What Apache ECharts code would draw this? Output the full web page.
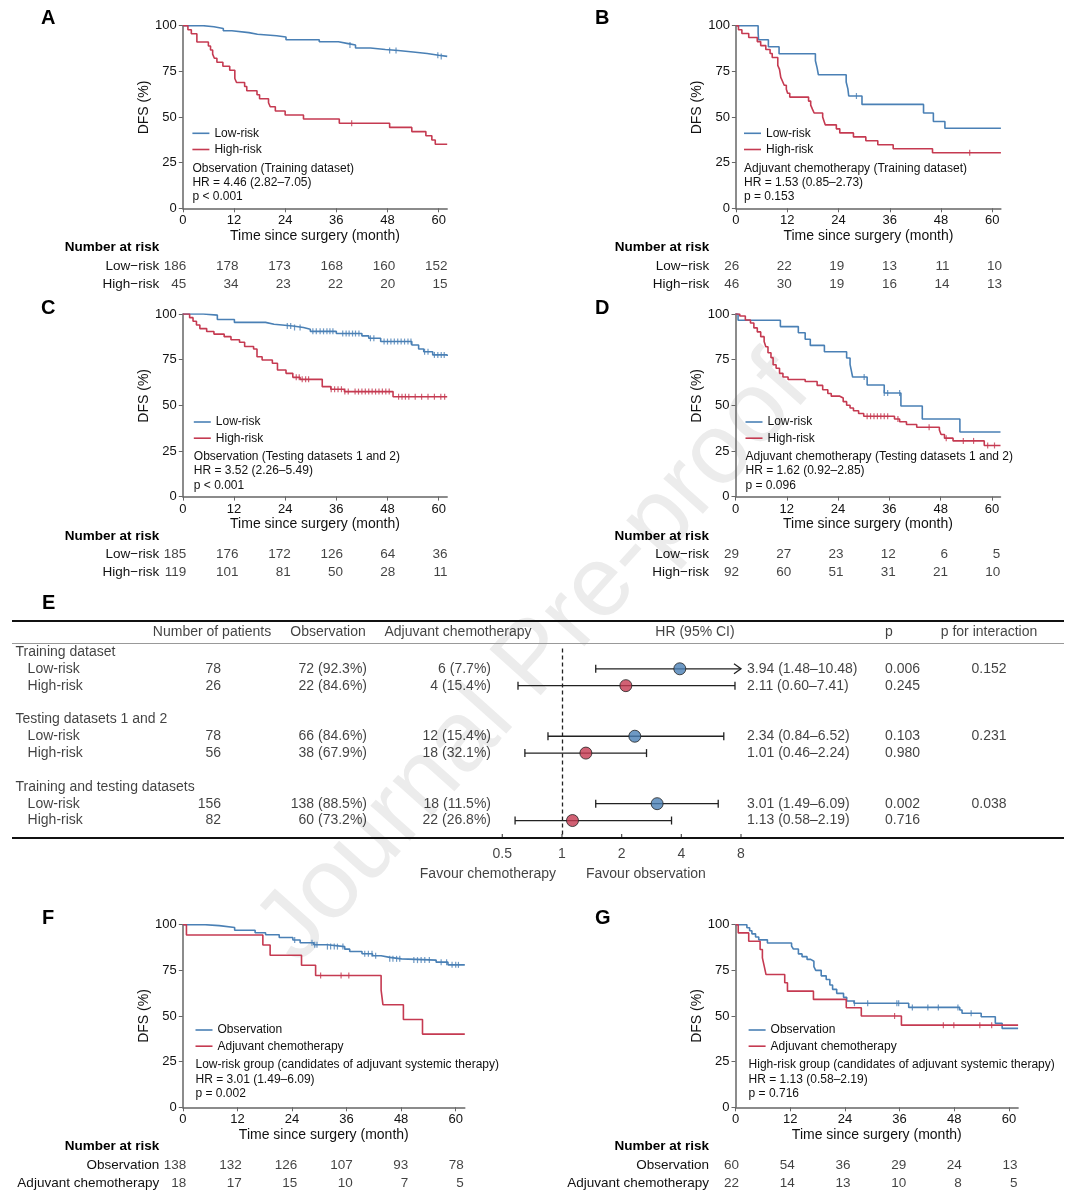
<!DOCTYPE html>
<html>
<head>
<meta charset="utf-8">
<script src="https://cdn.jsdelivr.net/npm/echarts@6/dist/echarts.min.js"></script>
<style>
  html, body { margin: 0; padding: 0; background: #fff; }
  #chart { width: 1078px; height: 1199px; }
</style>
</head>
<body>
<div id="chart"></div>
<script>
// ---- 生存曲线数据 [月, DFS%]，阶梯点 ----
const aLow = [[0,100],[4.8,99.4],[7.3,98.5],[9.5,97.2],[11.5,96.2],[15.5,95.3],[17.5,94.5],[22,93.8],[24.2,92.3],[32,91.2],[36.5,90.2],[38.8,89.4],[40.5,87.8],[44,87],[47.5,86.4],[50.5,85.6],[54,84.8],[57.3,83.8],[60,83.2],[62,83.2]];
const aHigh = [[0,100],[1.2,97.8],[2,95.6],[3.3,91.1],[6,88.9],[6.5,86.7],[7,84.4],[7.4,82.2],[8,80],[9.4,77.8],[11,75.6],[12.2,71.1],[12.6,68.9],[14.5,66.7],[15,64.4],[17.4,62.2],[18,60],[20.1,57.8],[20.5,55.6],[21.7,53.3],[24,51.1],[28.3,48.9],[36.7,46.6],[48.5,44.3],[53.7,42],[57,39.7],[58.4,37.4],[59.2,35.1],[62,35.1]];
const bLow = [[0,100],[5.2,96.2],[5.3,92.3],[7.6,88.5],[10.1,84.6],[18.6,80.8],[19,76.9],[19.3,73.1],[25.8,69.2],[26.2,65.4],[26.4,61.5],[29.5,56.9],[43.9,52.2],[46.2,47.5],[48.9,43.8],[62,43.8]];
const bHigh = [[0,100],[0.6,97.8],[1.4,95.7],[3,93.5],[5,91.3],[5.8,89.1],[7,87],[8,84.8],[8.5,82.6],[9.8,78.3],[10.2,76.1],[10.5,71.7],[10.9,69.6],[11.3,67.4],[11.8,65.2],[12.1,63],[12.6,60.9],[17,58.7],[17.5,56.5],[17.9,54.3],[18.3,52.2],[20.3,50],[20.6,47.8],[20.9,45.7],[23.5,43.5],[24.3,41.3],[27.5,39.1],[30.4,37],[33.2,34.8],[36.8,32.6],[46,30.4],[62,30.4]];
const cLow = [[0,100],[4.8,99.4],[8.1,97],[12.1,95.4],[19.4,94.4],[21.4,93.4],[25.8,92.6],[28.3,91.6],[29.9,90.5],[36,89.3],[42,88],[43.6,86.7],[46.4,84.9],[53.7,83],[55.3,80.8],[56.5,79.3],[58.6,77.6],[62,77]];
const cHigh = [[0,100],[1.6,98],[2.4,96],[3.2,94],[4,92],[5.6,90.4],[7.3,89],[9.7,87.6],[11.3,85.9],[13.3,84.5],[14.5,82.2],[16.6,80.8],[17.4,76.6],[18.6,74.8],[21,73],[22.2,69.3],[24.2,67.5],[25.8,65.3],[27.5,64.2],[32.7,60.2],[34.7,58.8],[37.9,57.5],[49.3,54.7],[62,54.7]];
const dLow = [[0,100],[0.6,96.6],[10.5,93.1],[14.7,89.7],[16.3,86.2],[17.5,82.8],[20.8,79.3],[26,75.9],[26.8,72.4],[27.1,69],[27.4,65.5],[30.8,61.1],[34.8,56.7],[38.7,49.6],[43.7,42.5],[52.5,35.4],[62,35.4]];
const dHigh = [[0,100],[1,98.9],[2.3,96.7],[3.5,95.1],[4.3,92.4],[5.1,90.2],[5.9,87.6],[6.7,85],[7.1,82.1],[7.6,78.8],[8.3,76.1],[8.8,72.2],[9.5,70.3],[10.3,67.5],[11.1,65.5],[12.3,64.1],[16.3,63],[19.1,60.9],[20.4,58.5],[21.6,56.5],[22.4,55],[24.4,54],[25.2,52],[26,50],[26.8,48.5],[27.6,47],[28.8,45.5],[30,44],[37.2,42.5],[38.4,41],[40,39.5],[42.4,38],[47.7,36.5],[48.1,34],[48.9,32],[50.9,30.5],[58.2,28],[62,28]];
const fObs = [[0,100],[4.9,99.5],[8,98.5],[11.4,97],[15.9,95.6],[18.2,94.5],[21.2,93],[24.2,91.6],[25.8,90.1],[28.8,89],[31.8,88],[35.6,86.6],[36.7,85.3],[39.4,84.1],[41.7,83],[43.6,82.1],[45.5,81.3],[48.1,80.6],[55.7,79.5],[58.3,78],[62,78]];
const fAdj = [[0,100],[0.8,94.4],[17.6,88.9],[19.2,83.3],[26.1,77.8],[29.2,72.2],[43.6,64.2],[44,56.2],[48.5,48.1],[52.7,40.1],[62,40.1]];
const gObs = [[0,100],[2.5,98.3],[3.1,96.7],[3.6,95],[4.4,93.3],[5.1,91.7],[7,90],[12.3,88.3],[12.7,86.7],[13.8,84],[14.6,82.5],[15.7,81],[16.5,80],[17.2,77],[17.6,75],[18.8,72],[19.9,70],[20.7,67],[21.3,64.6],[22.2,62.4],[23.7,60.2],[24.4,58.2],[26,57],[38,54.7],[49.2,53.3],[49.7,51.5],[53.9,49.6],[57,46],[58.5,43.2],[62,43.2]];
const gAdj = [[0,100],[0.6,95.5],[2.9,90.9],[5.4,86.4],[5.9,81.8],[6.3,77.3],[6.7,72.7],[10.8,68.2],[11.4,63.6],[17.1,59.1],[24.3,54.5],[27.6,50],[36.4,45],[62,45]];

// ---- 删失时间点（月）----
const aLowCens = [39.2, 48.5, 50, 59.8, 60.6];
const aHighCens = [39.6];
const bLowCens = [28.2];
const bHighCens = [54.7];
const cLowCens = [24.5,25.3,26.2,27.5,30.5,31.3,32.2,33,33.8,34.5,35.2,37.5,38.3,39,39.8,40.5,41.3,44,44.8,47.2,48,48.8,49.6,50.4,51.2,52,52.8,53.5,56.7,57.5,59,59.8,60.6,61.3];
const cHighCens = [26.6,27.3,28,28.8,29.5,34.8,35.6,36.4,37.2,38,38.8,40.4,41.2,42,42.8,43.6,44.4,45.2,46,46.8,47.6,48.4,50.6,51.4,52.2,53,54.5,56,57.5,59,60.5,61.4];
const dLowCens = [30.1, 34.8, 35.6, 38.4];
const dHighCens = [30.8,31.6,32.4,33.2,34,34.8,35.6,38,45.3,49.3,53.3,55.7,59,60.6];
const fObsCens = [24.6,28.4,29,29.5,31.8,32.5,33.3,34,35.2,40,40.8,41.6,42.4,45.5,46.2,47,47.7,50.8,51.6,52.4,53.2,54.2,56.8,58,59.2,60,60.6];
const fAdjCens = [30.3, 34.8, 36.5];
const gObsCens = [26.1, 29, 35.4, 35.8, 38.8, 42.2, 44.5, 48.8, 51.7];
const gAdjCens = [34.9, 45.6, 47.9, 53.6, 56.2];

// ---- 风险人数表 ----
const riskTimes = [0, 12, 24, 36, 48, 60];
const aRiskLow = [186, 178, 173, 168, 160, 152];
const aRiskHigh = [45, 34, 23, 22, 20, 15];
const bRiskLow = [26, 22, 19, 13, 11, 10];
const bRiskHigh = [46, 30, 19, 16, 14, 13];
const cRiskLow = [185, 176, 172, 126, 64, 36];
const cRiskHigh = [119, 101, 81, 50, 28, 11];
const dRiskLow = [29, 27, 23, 12, 6, 5];
const dRiskHigh = [92, 60, 51, 31, 21, 10];
const fRiskObs = [138, 132, 126, 107, 93, 78];
const fRiskAdj = [18, 17, 15, 10, 7, 5];
const gRiskObs = [60, 54, 36, 29, 24, 13];
const gRiskAdj = [22, 14, 13, 10, 8, 5];

const kmXTicks = [0, 12, 24, 36, 48, 60];

// ---- 森林图数据 ----
const forestGroups = ['Training dataset', 'Testing datasets 1 and 2', 'Training and testing datasets'];
const forestSub = ['Low-risk', 'High-risk', 'Low-risk', 'High-risk', 'Low-risk', 'High-risk'];
const forestN = [78, 26, 78, 56, 156, 82];
const forestObs = ['72 (92.3%)', '22 (84.6%)', '66 (84.6%)', '38 (67.9%)', '138 (88.5%)', '60 (73.2%)'];
const forestAdj = ['6 (7.7%)', '4 (15.4%)', '12 (15.4%)', '18 (32.1%)', '18 (11.5%)', '22 (26.8%)'];
const forestHRText = ['3.94 (1.48\u201310.48)', '2.11 (0.60\u20137.41)', '2.34 (0.84\u20136.52)', '1.01 (0.46\u20132.24)', '3.01 (1.49\u20136.09)', '1.13 (0.58\u20132.19)'];
const forestP = ['0.006', '0.245', '0.103', '0.980', '0.002', '0.716'];
const forestPInt = ['0.152', '0.231', '0.038'];
// 图中标记的位置
const forestHR = [3.93, 2.10, 2.33, 1.32, 3.02, 1.13];
const forestLow = [1.48, 0.60, 0.85, 0.65, 1.48, 0.58];
const forestHigh = [10.48, 7.46, 6.55, 2.67, 6.14, 3.57];
const forestTicks = [0.5, 1, 2, 4, 8];

// ---- 样式 ----
const FONT = '"Liberation Sans", Arial, Helvetica, sans-serif';
const BLUE = '#4a80b5';
const RED = '#c53a51';
const AXIS = '#666';
const TXT = '#111';
const LEG_ICON = 'path://M0,0L17,0L17,1.6L0,1.6Z';

let grids = [], xAxes = [], yAxes = [], series = [], legends = [], titles = [];

// 某时刻的生存率（阶梯查找）
function survAt(curve, t) {
  let s = curve[0][1];
  for (let i = 0; i < curve.length; i++) {
    if (curve[i][0] <= t) s = curve[i][1];
  }
  return s;
}

function kmPanel(p) {
  let gi = grids.length;
  grids.push({ left: p.left, top: p.top, width: p.width, height: 182.6, outerBoundsMode: 'none' });
  xAxes.push({
    gridIndex: gi, type: 'value', min: 0, max: 62,
    name: 'Time since surgery (month)', nameLocation: 'middle', nameGap: 21,
    nameTextStyle: { fontSize: 14, color: TXT },
    axisLine: { onZero: false, lineStyle: { color: AXIS, width: 1.5 } },
    axisTick: { length: 4, lineStyle: { color: AXIS }, customValues: kmXTicks },
    axisLabel: { fontSize: 13, color: TXT, margin: 6, customValues: kmXTicks },
    splitLine: { show: false }
  });
  yAxes.push({
    gridIndex: gi, type: 'value', min: 0, max: 100, interval: 25,
    name: 'DFS (%)', nameLocation: 'middle', nameGap: 26,
    nameTextStyle: { fontSize: 14, color: TXT, padding: p.dfsShift ? [0, 0, 0, 19] : 0 },
    axisLine: { show: true, lineStyle: { color: AXIS, width: 1.5 } },
    axisTick: { show: true, length: 4, lineStyle: { color: AXIS } },
    axisLabel: { fontSize: 13, color: TXT, margin: 6 },
    splitLine: { show: false }
  });
  let curves = [[p.names[0], p.c1, p.cens1, BLUE], [p.names[1], p.c2, p.cens2, RED]];
  curves.forEach(function (c) {
    series.push({
      name: c[0], type: 'line', step: 'end', xAxisIndex: gi, yAxisIndex: gi,
      data: c[1], symbol: 'none', silent: true, z: 3,
      lineStyle: { color: c[3], width: 1.6 }, itemStyle: { color: c[3] }
    });
    series.push({
      name: 'censor', type: 'scatter', xAxisIndex: gi, yAxisIndex: gi,
      data: c[2].map(function (t) { return [t, survAt(c[1], t)]; }),
      symbol: 'rect', symbolSize: [1.2, 6], silent: true, z: 3,
      itemStyle: { color: c[3] }
    });
  });
  legends.push({
    left: p.legLeft, top: p.legTop, orient: 'vertical', padding: 0,
    itemWidth: 17, itemHeight: 12, itemGap: 4.2, selectedMode: false,
    icon: LEG_ICON, symbolKeepAspect: true,
    data: p.names, textStyle: { fontSize: 12, color: TXT }
  });
  titles.push({
    text: p.note, left: p.legLeft, top: p.noteTop, padding: 0,
    textStyle: { fontSize: 12, fontWeight: 'normal', color: TXT, lineHeight: 14.4, fontFamily: FONT }
  });
  titles.push({
    text: p.letter, left: p.letterLeft, top: p.letterTop, padding: 0,
    textStyle: { fontSize: 20, fontWeight: 'bold', color: '#000', fontFamily: FONT }
  });

  // 风险人数表
  let ri = grids.length;
  grids.push({ left: p.riskLeft, top: p.riskTop, width: p.riskWidth, height: 54.6, outerBoundsMode: 'none' });
  xAxes.push({ gridIndex: ri, type: 'value', min: 0, max: 60, show: false });
  yAxes.push({
    gridIndex: ri, type: 'category', inverse: true,
    data: ['Number at risk', p.rows[0], p.rows[1]],
    axisLine: { show: false }, axisTick: { show: false },
    axisLabel: {
      interval: 0, margin: p.rowMargin, fontSize: 13.5, color: TXT,
      formatter: function (v, i) { return i === 0 ? '{b|' + v + '}' : v; },
      rich: { b: { fontWeight: 'bold', fontSize: 13.5, color: '#000' } }
    }
  });
  [p.r1, p.r2].forEach(function (arr, k) {
    series.push({
      name: 'risk', type: 'scatter', xAxisIndex: ri, yAxisIndex: ri, clip: false,
      symbolSize: 0, silent: true,
      data: arr.map(function (n, i) { return { name: String(n), value: [riskTimes[i], k + 1] }; }),
      label: { show: true, position: 'left', distance: 0, formatter: '{b}', fontSize: 13.5, color: TXT }
    });
  });
}

kmPanel({
  letter: 'A', letterLeft: 41, letterTop: 8.5,
  left: 182.8, top: 25.7, width: 264.4,
  names: ['Low-risk', 'High-risk'], c1: aLow, c2: aHigh, cens1: aLowCens, cens2: aHighCens,
  legLeft: 192.4, legTop: 127.3, noteTop: 161,
  note: 'Observation (Training dataset)\nHR = 4.46 (2.82\u20137.05)\np < 0.001',
  dfsShift: true,
  riskLeft: 186.2, riskTop: 238.6, riskWidth: 261.3, rowMargin: 27,
  rows: ['Low\u2212risk', 'High\u2212risk'], r1: aRiskLow, r2: aRiskHigh
});
kmPanel({
  letter: 'B', letterLeft: 595, letterTop: 8.5,
  left: 735.9, top: 25.7, width: 265,
  names: ['Low-risk', 'High-risk'], c1: bLow, c2: bHigh, cens1: bLowCens, cens2: bHighCens,
  legLeft: 744, legTop: 127.3, noteTop: 161,
  note: 'Adjuvant chemotherapy (Training dataset)\nHR = 1.53 (0.85\u20132.73)\np = 0.153',
  dfsShift: true,
  riskLeft: 739.3, riskTop: 238.6, riskWidth: 262.7, rowMargin: 30,
  rows: ['Low\u2212risk', 'High\u2212risk'], r1: bRiskLow, r2: bRiskHigh
});
kmPanel({
  letter: 'C', letterLeft: 41, letterTop: 298.5,
  left: 182.8, top: 314, width: 264.4,
  names: ['Low-risk', 'High-risk'], c1: cLow, c2: cHigh, cens1: cLowCens, cens2: cHighCens,
  legLeft: 193.8, legTop: 416, noteTop: 449.5,
  note: 'Observation (Testing datasets 1 and 2)\nHR = 3.52 (2.26\u20135.49)\np < 0.001',
  dfsShift: true,
  riskLeft: 186.2, riskTop: 526.8, riskWidth: 261.3, rowMargin: 27,
  rows: ['Low\u2212risk', 'High\u2212risk'], r1: cRiskLow, r2: cRiskHigh
});
kmPanel({
  letter: 'D', letterLeft: 595, letterTop: 298.5,
  left: 735.5, top: 314, width: 265,
  names: ['Low-risk', 'High-risk'], c1: dLow, c2: dHigh, cens1: dLowCens, cens2: dHighCens,
  legLeft: 745.5, legTop: 416, noteTop: 449.5,
  note: 'Adjuvant chemotherapy (Testing datasets 1 and 2)\nHR = 1.62 (0.92\u20132.85)\np = 0.096',
  dfsShift: true,
  riskLeft: 739, riskTop: 526.8, riskWidth: 261.3, rowMargin: 30,
  rows: ['Low\u2212risk', 'High\u2212risk'], r1: dRiskLow, r2: dRiskHigh
});
kmPanel({
  letter: 'F', letterLeft: 42, letterTop: 908.5,
  left: 182.8, top: 924.7, width: 282,
  names: ['Observation', 'Adjuvant chemotherapy'], c1: fObs, c2: fAdj, cens1: fObsCens, cens2: fAdjCens,
  legLeft: 195.5, legTop: 1024, noteTop: 1057.8,
  note: 'Low-risk group (candidates of adjuvant systemic therapy)\nHR = 3.01 (1.49\u20136.09)\np = 0.002',
  dfsShift: false,
  riskLeft: 186.2, riskTop: 1137.5, riskWidth: 277.6, rowMargin: 27,
  rows: ['Observation', 'Adjuvant chemotherapy'], r1: fRiskObs, r2: fRiskAdj
});
kmPanel({
  letter: 'G', letterLeft: 595, letterTop: 908.5,
  left: 735.5, top: 924.7, width: 282.6,
  names: ['Observation', 'Adjuvant chemotherapy'], c1: gObs, c2: gAdj, cens1: gObsCens, cens2: gAdjCens,
  legLeft: 748.6, legTop: 1024, noteTop: 1057.8,
  note: 'High-risk group (candidates of adjuvant systemic therapy)\nHR = 1.13 (0.58\u20132.19)\np = 0.716',
  dfsShift: false,
  riskLeft: 739, riskTop: 1137.5, riskWidth: 278.6, rowMargin: 30,
  rows: ['Observation', 'Adjuvant chemotherapy'], r1: gRiskObs, r2: gRiskAdj
});

// ---- E: 森林图 ----
titles.push({
  text: 'E', left: 42, top: 593.5, padding: 0,
  textStyle: { fontSize: 20, fontWeight: 'bold', color: '#000', fontFamily: FONT }
});

// 行号：y = 651.5 + 16.9 * r；行轴整体平移 ROW0
const ROW0 = 100;
const rowMin = ROW0 - 1.864, rowMax = ROW0 + 11.036;
const forestRows = [1, 2, 5, 6, 9, 10];
const groupRows = [0, 4, 8];

// HR 网格：log2 轴（轴本身隐藏，刻度与刻度值由系列画出）
let fi = grids.length;
grids.push({ left: 502.3, top: 620.5, width: 238.7, height: 217.5, outerBoundsMode: 'none' });
xAxes.push({
  gridIndex: fi, type: 'log', logBase: 2, min: 0.5, max: 8,
  axisLine: { show: false, onZero: false }, axisTick: { show: false },
  axisLabel: { show: false }, splitLine: { show: false }, minorTick: { show: false }
});
yAxes.push({
  gridIndex: fi, type: 'value', inverse: true, min: rowMin, max: rowMax,
  axisLine: { show: false, onZero: false }, axisTick: { show: false },
  axisLabel: { show: false }, splitLine: { show: false }
});

let ti = grids.length;
grids.push({ left: 0, top: 620.5, width: 1078, height: 217.5, outerBoundsMode: 'none' });
xAxes.push({ gridIndex: ti, type: 'value', min: 0, max: 1078, show: false, axisLine: { onZero: false } });
yAxes.push({ gridIndex: ti, type: 'value', inverse: true, min: rowMin, max: rowMax, show: false, axisLine: { onZero: false } });

function renderCI(params, api) {
  let lo = api.value(0), hi = api.value(1), r = api.value(2);
  let xMax = 8;
  let p1 = api.coord([lo, r]);
  let p2 = api.coord([Math.min(hi, xMax), r]);
  let st = { stroke: '#222', lineWidth: 1.3, fill: 'none' };
  let kids = [
    { type: 'line', shape: { x1: p1[0], y1: p1[1], x2: p2[0], y2: p2[1] }, style: st },
    { type: 'line', shape: { x1: p1[0], y1: p1[1] - 4, x2: p1[0], y2: p1[1] + 4 }, style: st }
  ];
  if (hi > xMax) {
    kids.push({ type: 'polyline', shape: { points: [[p2[0] - 7, p2[1] - 5], [p2[0], p2[1]], [p2[0] - 7, p2[1] + 5]] }, style: st });
  } else {
    kids.push({ type: 'line', shape: { x1: p2[0], y1: p2[1] - 4, x2: p2[0], y2: p2[1] + 4 }, style: st });
  }
  return { type: 'group', children: kids };
}

series.push({
  name: 'ci', type: 'custom', xAxisIndex: fi, yAxisIndex: fi, silent: true, z: 3,
  renderItem: renderCI, encode: { x: [0, 1], y: 2 },
  data: forestRows.map(function (r, i) { return [forestLow[i], forestHigh[i], ROW0 + r]; })
});
series.push({
  name: 'hr', type: 'scatter', xAxisIndex: fi, yAxisIndex: fi, silent: true, z: 4,
  symbolSize: 12,
  data: forestRows.map(function (r, i) {
    return { value: [forestHR[i], ROW0 + r], itemStyle: { color: i % 2 === 0 ? BLUE : RED, borderColor: '#222', borderWidth: 1 } };
  }),
  markLine: {
    symbol: 'none', silent: true, label: { show: false },
    lineStyle: { type: [4, 3], color: '#222', width: 1.3 },
    data: [[{ coord: [1, ROW0 - 0.207] }, { coord: [1, rowMax] }]]
  }
});
// HR 刻度：底线上方短竖线 + 下方刻度值
series.push({
  name: 'hrTicks', type: 'scatter', xAxisIndex: fi, yAxisIndex: fi, silent: true, clip: false,
  symbol: 'rect', symbolSize: [1.2, 4], symbolOffset: [0, -2],
  itemStyle: { color: '#222' },
  data: forestTicks.map(function (v) { return { name: String(v), value: [v, rowMax] }; }),
  label: { show: true, position: 'bottom', distance: 9, formatter: '{b}', fontSize: 14, color: TXT }
});

// 表格文字
function tableText(items, align) {
  let pos = align === 'left' ? 'right' : (align === 'right' ? 'left' : 'inside');
  series.push({
    name: 'table', type: 'scatter', xAxisIndex: ti, yAxisIndex: ti, clip: false,
    symbolSize: 0, silent: true,
    data: items.map(function (it) { return { name: String(it[2]), value: [it[0], ROW0 + it[1]] }; }),
    label: { show: true, position: pos, distance: 0, formatter: '{b}', fontSize: 14, color: TXT }
  });
}
const headRow = -1.17;
tableText([
  [212, headRow, 'Number of patients'], [328, headRow, 'Observation'],
  [458, headRow, 'Adjuvant chemotherapy'], [695, headRow, 'HR (95% CI)'],
  [989, headRow, 'p for interaction']
].concat(forestPInt.map(function (v, i) { return [989, forestRows[i * 2], v]; })), 'center');
tableText(
  [[885, headRow, 'p']]
    .concat(groupRows.map(function (r, i) { return [15.5, r, forestGroups[i]]; }))
    .concat(forestRows.map(function (r, i) { return [27.6, r, forestSub[i]]; }))
    .concat(forestRows.map(function (r, i) { return [747, r, forestHRText[i]]; }))
    .concat(forestRows.map(function (r, i) { return [885, r, forestP[i]]; }))
    .concat([[586, 13.17, 'Favour observation']]),
  'left');
tableText(
  forestRows.map(function (r, i) { return [221, r, forestN[i]]; })
    .concat(forestRows.map(function (r, i) { return [367, r, forestObs[i]]; }))
    .concat(forestRows.map(function (r, i) { return [491, r, forestAdj[i]]; }))
    .concat([[556, 13.17, 'Favour chemotherapy']]),
  'right');

// 表格横线
series.push({
  name: 'rules', type: 'scatter', xAxisIndex: ti, yAxisIndex: ti, data: [], silent: true,
  markLine: {
    symbol: 'none', silent: true, label: { show: false },
    data: [
      [{ coord: [12, ROW0 - 1.822], lineStyle: { color: '#111', width: 2, type: 'solid' } }, { coord: [1064, ROW0 - 1.822] }],
      [{ coord: [12, ROW0 - 0.544], lineStyle: { color: '#999', width: 1, type: 'solid' } }, { coord: [1064, ROW0 - 0.544] }],
      [{ coord: [12, ROW0 + 11.0], lineStyle: { color: '#111', width: 2, type: 'solid' } }, { coord: [1064, ROW0 + 11.0] }]
    ]
  }
});

let myChart = echarts.init(document.getElementById('chart'), null, { renderer: 'canvas' });
let option = {
  backgroundColor: '#fff',
  animation: false,
  textStyle: { fontFamily: FONT },
  title: titles,
  legend: legends,
  grid: grids,
  xAxis: xAxes,
  yAxis: yAxes,
  series: series,
  graphic: [{
    type: 'text', x: 535, y: 660, rotation: 0.84, z: -10, silent: true,
    style: { text: 'Journal Pre-proof', font: '100px "Liberation Sans", Arial, sans-serif', fill: '#ececec', align: 'center', verticalAlign: 'middle' }
  }]
};
myChart.setOption(option);
window.addEventListener('resize', function () {
  myChart.resize();
});
</script>
</body>
</html>
